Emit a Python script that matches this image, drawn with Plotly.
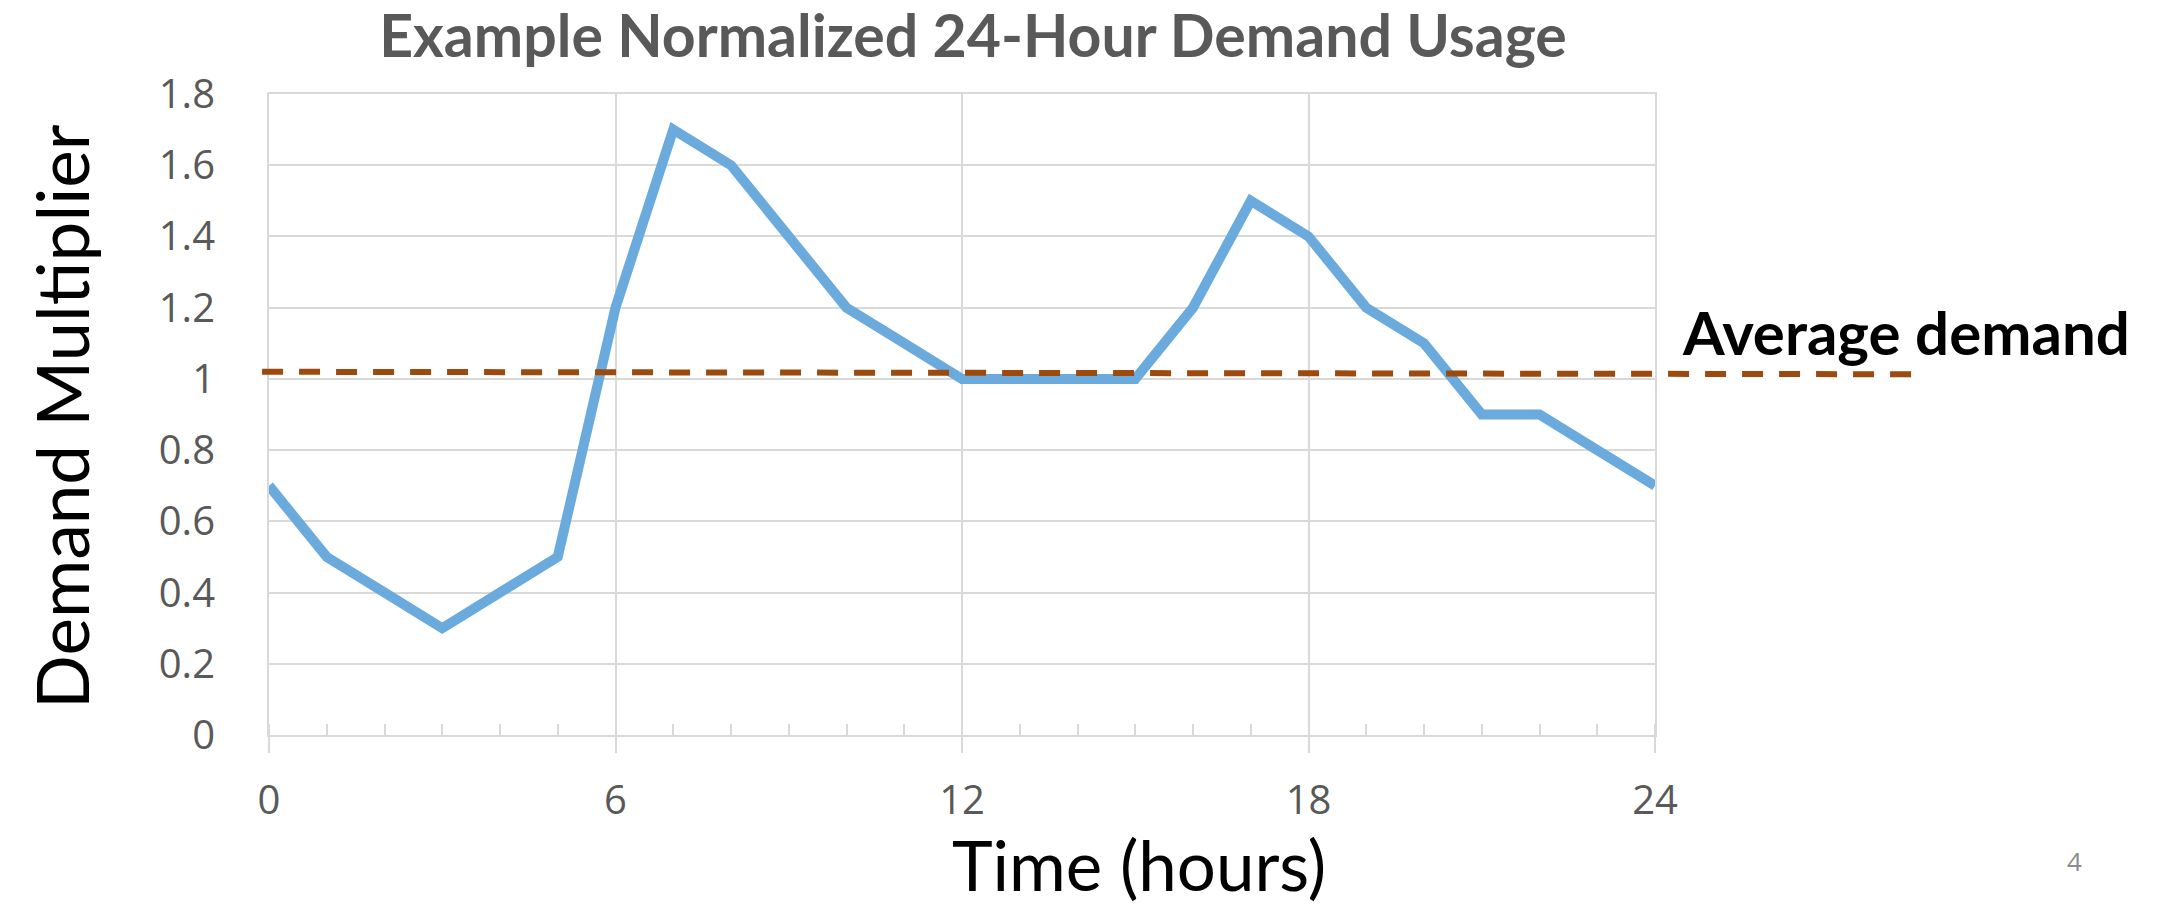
import plotly.graph_objects as go

hours = list(range(25))
demand = [0.7, 0.5, 0.4, 0.3, 0.4, 0.5, 1.2, 1.7, 1.6, 1.4, 1.2, 1.1, 1.0,
          1.0, 1.0, 1.0, 1.2, 1.5, 1.4, 1.2, 1.1, 0.9, 0.9, 0.8, 0.7]
avg_x = [-0.12, 28.7]
avg_y = [1.02, 1.013]
x_ticks = [0, 6, 12, 18, 24]
y_ticks = [0, 0.2, 0.4, 0.6, 0.8, 1.0, 1.2, 1.4, 1.6, 1.8]
y_tick_text = ["0", "0.2", "0.4", "0.6", "0.8", "1", "1.2", "1.4", "1.6", "1.8"]

X_RANGE = [0, 24]
Y_RANGE = [0, 1.8]

W, H = 2157, 909
L, R, T, B = 269, 502, 94, 174

GRID = "#D9D9D9"
TICKFONT = dict(family="Open Sans", size=40, color="#595959")

fig = go.Figure()
fig.add_trace(go.Scatter(x=hours, y=demand, mode="lines",
                         line=dict(color="#6AAADD", width=10),
                         showlegend=False, hoverinfo="skip"))

def xp(v):
    return (v - X_RANGE[0]) / (X_RANGE[1] - X_RANGE[0])

def yp(v):
    return (v - Y_RANGE[0]) / (Y_RANGE[1] - Y_RANGE[0])

fig.add_shape(type="line", xref="paper", yref="paper",
              x0=xp(avg_x[0]), x1=xp(avg_x[1]), y0=yp(avg_y[0]), y1=yp(avg_y[1]),
              line=dict(color="#9C4A0E", width=6, dash="21px,16px"))

fig.add_annotation(text="<b>Average demand</b>", xref="paper", yref="paper",
                   x=xp(avg_x[1]) - 0.178, y=yp(1.133), xanchor="left", yanchor="middle",
                   showarrow=False, font=dict(family="Lato", size=60, color="#000000"))

fig.add_annotation(text="Time (hours)", xref="paper", yref="paper",
                   x=(1139 - L) / (W - L - R), y=-(864 - (H - B)) / (H - T - B),
                   xanchor="center", yanchor="middle", showarrow=False,
                   font=dict(family="Lato", size=69, color="#000000"))

fig.add_annotation(text="Demand Multiplier", xref="paper", yref="paper",
                   x=-(L - 62) / (W - L - R), y=yp(0.893), textangle=-90,
                   xanchor="center", yanchor="middle", showarrow=False,
                   font=dict(family="Lato", size=71, color="#000000"))

fig.add_annotation(text="4", xref="paper", yref="paper",
                   x=(2074 - L) / (W - L - R), y=-(861 - (H - B)) / (H - T - B),
                   xanchor="center", yanchor="middle", showarrow=False,
                   font=dict(family="Open Sans", size=26, color="#8C8C8C"))

fig.update_layout(
    width=W, height=H, autosize=False,
    margin=dict(l=L, r=R, t=T, b=B),
    paper_bgcolor="white", plot_bgcolor="white",
    title=dict(text="<b>Example Normalized 24-Hour Demand Usage</b>",
               x=(973) / W, xanchor="center", y=1 - 36 / H, yanchor="middle",
               font=dict(family="Lato", size=59, color="#595959")),
    xaxis=dict(range=X_RANGE, tickvals=x_ticks, ticktext=[str(v) for v in x_ticks],
               showgrid=True, gridcolor=GRID, gridwidth=2,
               showline=True, linecolor=GRID, linewidth=2, mirror=True,
               ticks="outside", ticklen=16, tickwidth=2, tickcolor=GRID,
               ticklabelstandoff=13,
               minor=dict(dtick=1, ticks="inside", ticklen=11, tickwidth=2,
                          tickcolor=GRID, showgrid=False),
               tickfont=TICKFONT, zeroline=False),
    yaxis=dict(range=Y_RANGE, tickvals=y_ticks, ticktext=y_tick_text,
               showgrid=True, gridcolor=GRID, gridwidth=2,
               showline=True, linecolor=GRID, linewidth=2, mirror=True,
               ticks="", ticklabelstandoff=44,
               tickfont=TICKFONT, zeroline=False),
)

fig.write_html("out.html", config={"displayModeBar": False},
               post_script="document.body.style.margin='0';document.body.style.overflow='hidden';")
